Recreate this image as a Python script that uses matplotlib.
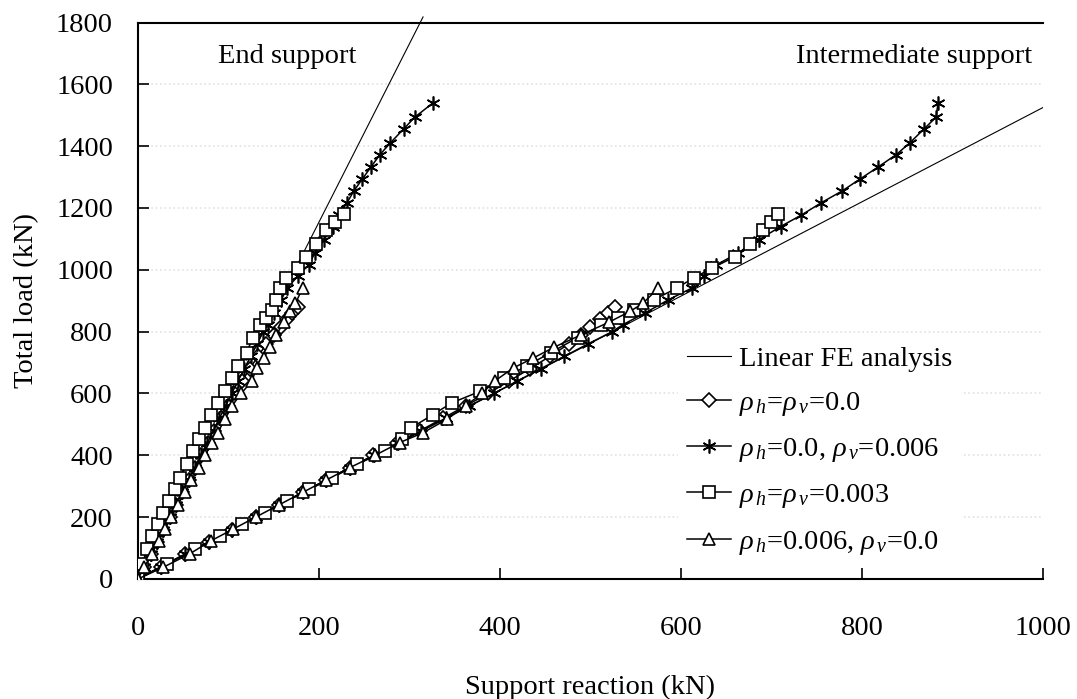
import matplotlib as mpl
mpl.use('Agg')
import matplotlib.pyplot as plt

plt.rcParams['font.family'] = ['Liberation Serif', 'DejaVu Serif']
plt.rcParams['mathtext.fontset'] = 'custom'
plt.rcParams['mathtext.rm'] = 'Liberation Serif'
plt.rcParams['mathtext.it'] = 'Liberation Serif:italic'
plt.rcParams['font.size'] = 20.5

# linear FE analysis (end support / intermediate support)
fe_end_x = [0, 315]
fe_end_y = [0, 1818]
fe_int_x = [0, 1000]
fe_int_y = [0, 1525]

# rho_h = rho_v = 0.0
d_load = [0, 40, 80, 120, 160, 200, 240, 280, 320, 360, 400, 440, 480, 520, 560,
          600, 640, 680, 720, 760, 790, 815, 840, 860, 880]
d_end = [0, 7, 14, 21, 28, 35, 42, 49, 56, 63, 70, 77, 84, 91.5, 99,
         106.5, 115, 123.5, 132.5, 142, 150, 157.5, 165, 170.5, 177]
d_int = [0, 26, 52, 78, 104, 130, 156, 182, 208, 234, 260, 286, 312, 337, 362,
         387, 410, 433, 455, 476, 490, 500, 510, 519, 527]

# rho_h = 0.0, rho_v = 0.006
a_load = [0, 40, 80, 120, 160, 200, 240, 280, 320, 360, 400, 440, 480, 520, 560,
          600, 640, 680, 720, 760, 800, 823, 860, 903, 941, 980, 1016, 1054, 1097,
          1140, 1177, 1217, 1255, 1294, 1333, 1373, 1411, 1457, 1494, 1540]
a_end = [0, 7, 14, 21, 28, 35, 42, 49, 56, 63, 69.5, 76.5, 83.5, 90, 97,
         103.5, 110.5, 117.5, 124.5, 131.5, 138, 143.5, 150, 158.5, 164.5, 177, 188.5, 195.5, 205.5,
         215, 222, 231, 238.5, 248, 257.5, 267.5, 279, 294, 306, 326]
a_int = [0, 26, 52, 78, 104, 130, 156, 182, 208, 234, 261, 287, 313, 340, 366,
         393, 419, 445, 471, 497, 524, 536, 560, 586, 612, 626, 639, 663, 686,
         710, 733, 755, 778, 798, 818, 838, 853, 869, 882, 884]

# rho_h = rho_v = 0.003
s_load = [0, 50, 97, 140, 177, 215, 253, 290, 328, 371, 414, 452, 489, 532, 570,
          607, 650, 690, 732, 781, 820, 845, 871, 903, 942, 974, 1005, 1043, 1085,
          1129, 1156, 1180]
s_end = [0, 5, 10, 15, 22, 28, 34, 41, 46, 54, 61, 67, 74, 81, 88,
         96, 104, 111, 120, 127, 135, 142, 148, 153, 157, 164, 177, 186, 197,
         208, 218, 228]
s_int = [0, 32, 63, 91, 115, 140, 165, 189, 214, 242, 273, 292, 302, 326, 347,
         378, 405, 430, 456, 486, 512, 530, 548, 570, 596, 614, 634, 660, 676,
         691, 700, 707]

# rho_h = 0.006, rho_v = 0.0
t_load = [0, 38, 81, 124, 161, 200, 240, 280, 320, 360, 400, 441, 473, 516, 560,
          600, 640, 683, 715, 750, 790, 830, 866, 892, 941]
t_end = [0, 7, 15, 23, 30, 37, 44, 52, 59, 67, 74, 82, 88, 96, 104,
         114, 126, 131, 139, 146, 153, 161, 168, 174, 182]
t_int = [0, 28, 57, 81, 105, 130, 156, 182, 208, 234, 262, 289, 315, 341, 362,
         380, 394, 415, 437, 460, 490, 520, 544, 558, 575]

xticks = [0, 200, 400, 600, 800, 1000]
yticks = [0, 200, 400, 600, 800, 1000, 1200, 1400, 1600, 1800]

series = [
    (d_load, d_end, d_int, 'D', 7.5, r'$\rho_{\,h}$=$\rho_{\,v}$=0.0'),
    (a_load, a_end, a_int, (6, 2, 0), 10, r'$\rho_{\,h}$=0.0, $\rho_{\,v}$=0.006'),
    (s_load, s_end, s_int, 's', 8, r'$\rho_{\,h}$=$\rho_{\,v}$=0.003'),
    (t_load, t_end, t_int, '^', 9, r'$\rho_{\,h}$=0.006, $\rho_{\,v}$=0.0'),
]

fig = plt.figure(figsize=(10.77, 6.99), dpi=100)
ax = fig.add_axes([0.1281, 0.1717, 0.8403, 0.7961])

ax.plot(fe_end_x, fe_end_y, color='black', lw=0.8, clip_on=False,
        label='Linear FE analysis', zorder=3)
ax.plot(fe_int_x, fe_int_y, color='black', lw=0.8, zorder=3)

for load, end, inter, mk, ms, lab in series:
    style = dict(color='black', lw=1.1, marker=mk, ms=ms, mfc='white',
                 mec='black', mew=1.2, zorder=4)
    ax.plot(end, load, label=lab, **style)
    ax.plot(inter, load, **style)

ax.set_xlim(0, 1000)
ax.set_ylim(0, 1800)
ax.set_xticks(xticks)
ax.set_yticks(yticks)
ax.tick_params(axis='both', direction='in', length=8, width=1.2)
ax.tick_params(axis='x', pad=27)
ax.tick_params(axis='y', pad=18)
ax.yaxis.grid(True, color='#e2e2e2', ls=':', lw=1.2)
ax.set_axisbelow(True)
ax.spines['right'].set_visible(False)
for s in ['left', 'bottom', 'top']:
    ax.spines[s].set_linewidth(1.5)

ax.set_xlabel('Support reaction (kN)', labelpad=24)
ax.set_ylabel('Total load (kN)', labelpad=12)

ax.text(165, 1690, 'End support', ha='center', va='center')
ax.text(858, 1690, 'Intermediate support', ha='center', va='center')

leg = ax.legend(loc='lower left', bbox_to_anchor=(0.597, 0.025), borderaxespad=0,
                frameon=True, fancybox=False, framealpha=1, edgecolor='none',
                handlelength=1.55, handletextpad=0.28, labelspacing=0.64,
                borderpad=0.3)
leg.set_zorder(5)

fig.savefig('out.png', dpi=100)
